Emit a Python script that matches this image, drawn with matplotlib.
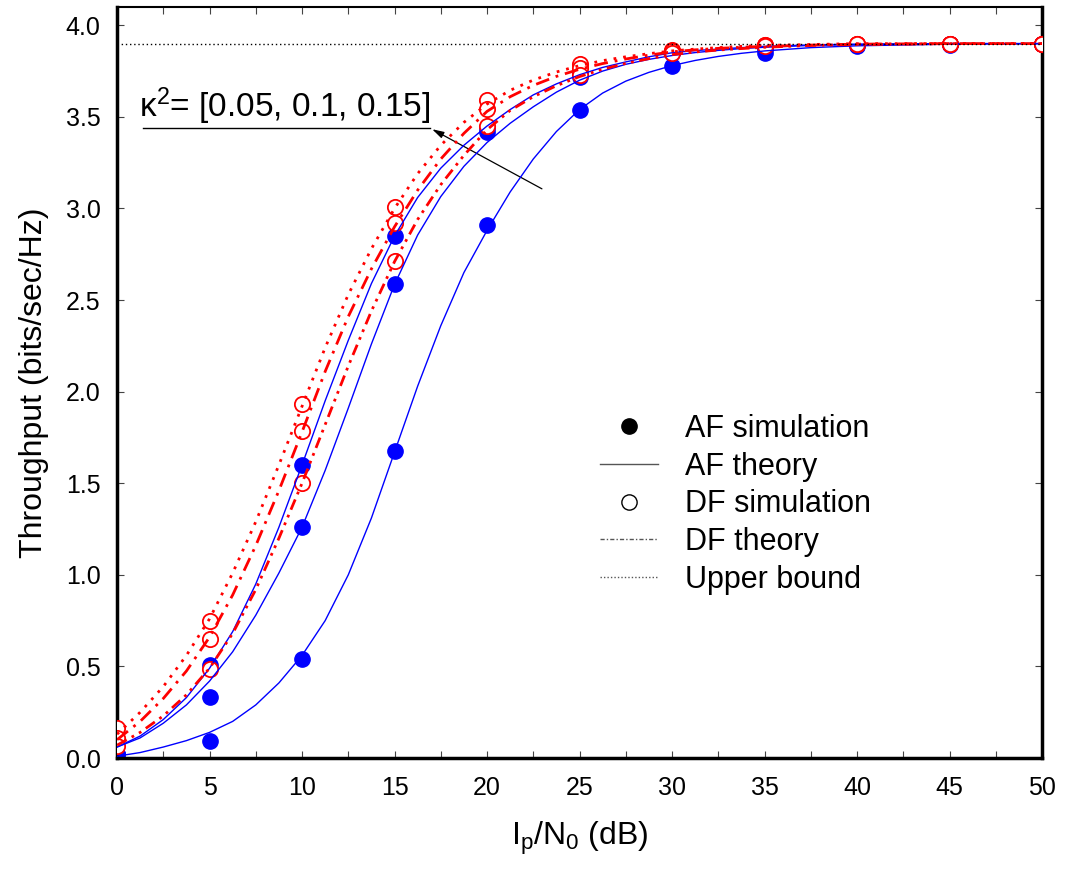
import numpy as np
import matplotlib
matplotlib.use('Agg')
import matplotlib.pyplot as plt
from matplotlib.lines import Line2D
from matplotlib.legend_handler import HandlerLine2D
from matplotlib.ticker import MultipleLocator

plt.rcParams['font.family'] = ['Liberation Sans', 'DejaVu Sans']
plt.rcParams['mathtext.fontset'] = 'custom'
plt.rcParams['mathtext.rm'] = 'Liberation Sans'
plt.rcParams['mathtext.it'] = 'Liberation Sans:italic'

# simulation points (dB)
snr_sim = [0, 5, 10, 15, 20, 25, 30, 35, 40, 45, 50]
af_sim_1 = [0.02, 0.51, 1.60, 2.85, 3.44, 3.74, 3.85, 3.88, 3.89, 3.90, 3.90]
af_sim_2 = [0.02, 0.335, 1.26, 2.585, 3.42, 3.72, 3.85, 3.87, 3.89, 3.90, 3.90]
af_sim_3 = [0.02, 0.093, 0.543, 1.674, 2.91, 3.536, 3.78, 3.85, 3.885, 3.895, 3.90]
df_sim_1 = [0.165, 0.75, 1.93, 3.01, 3.59, 3.79, 3.865, 3.89, 3.90, 3.90, 3.90]
df_sim_2 = [0.11, 0.648, 1.787, 2.92, 3.545, 3.766, 3.86, 3.89, 3.90, 3.90, 3.90]
df_sim_3 = [0.066, 0.488, 1.504, 2.712, 3.448, 3.73, 3.847, 3.885, 3.90, 3.90, 3.90]

# theory curves
snr_th = [0, 1.25, 2.5, 3.75, 5, 6.25, 7.5, 8.75, 10, 11.25, 12.5, 13.75, 15, 16.25, 17.5,
          18.75, 20, 21.25, 22.5, 23.75, 25, 26.25, 27.5, 28.75, 30, 31.25, 32.5, 33.75, 35,
          37.5, 40, 45, 50]
af_th_1 = [0.06, 0.12, 0.21, 0.33, 0.49, 0.69, 0.95, 1.26, 1.60, 1.95, 2.28, 2.59, 2.85, 3.06, 3.22,
           3.345, 3.45, 3.54, 3.62, 3.68, 3.73, 3.77, 3.80, 3.828, 3.85, 3.862, 3.87, 3.878, 3.885,
           3.893, 3.897, 3.90, 3.90]
af_th_2 = [0.06, 0.11, 0.19, 0.29, 0.42, 0.58, 0.78, 1.01, 1.26, 1.57, 1.91, 2.26, 2.585, 2.855, 3.065,
           3.23, 3.36, 3.465, 3.555, 3.635, 3.70, 3.75, 3.787, 3.814, 3.835, 3.851, 3.863, 3.873, 3.88,
           3.89, 3.895, 3.90, 3.90]
af_th_3 = [0.01, 0.03, 0.06, 0.095, 0.14, 0.20, 0.29, 0.41, 0.56, 0.75, 1.00, 1.31, 1.67, 2.03, 2.36,
           2.65, 2.88, 3.09, 3.27, 3.42, 3.54, 3.63, 3.695, 3.743, 3.78, 3.808, 3.83, 3.847, 3.86,
           3.878, 3.888, 3.897, 3.90]
df_th_1 = [0.13, 0.25, 0.39, 0.56, 0.76, 1.01, 1.29, 1.60, 1.92, 2.24, 2.53, 2.78, 3.00, 3.19, 3.345,
           3.47, 3.57, 3.645, 3.701, 3.745, 3.78, 3.807, 3.828, 3.845, 3.86, 3.87, 3.878, 3.885, 3.89,
           3.895, 3.90, 3.90, 3.90]
df_th_2 = [0.10, 0.20, 0.325, 0.475, 0.66, 0.89, 1.16, 1.46, 1.78, 2.11, 2.41, 2.67, 2.90, 3.10, 3.27,
           3.41, 3.53, 3.61, 3.672, 3.721, 3.76, 3.791, 3.816, 3.837, 3.855, 3.866, 3.874, 3.88, 3.885,
           3.892, 3.897, 3.90, 3.90]
df_th_3 = [0.07, 0.14, 0.23, 0.345, 0.49, 0.68, 0.92, 1.20, 1.50, 1.82, 2.14, 2.44, 2.71, 2.94, 3.13,
           3.29, 3.43, 3.535, 3.61, 3.67, 3.72, 3.76, 3.792, 3.818, 3.84, 3.854, 3.865, 3.873, 3.88,
           3.89, 3.895, 3.90, 3.90]
upper_bound = 3.9

kappa_label = 'κ$^{2}$= [0.05, 0.1, 0.15]'
legend_labels = ['AF simulation', 'AF theory', 'DF simulation', 'DF theory', 'Upper bound']

blue = '#0000ff'
red = '#ff0000'


class MarkerRight(HandlerLine2D):
    # legend marker sits near the right end of the handle, like the original
    def get_xdata(self, legend, xdescent, ydescent, width, height, fontsize):
        xdata, _ = super().get_xdata(legend, xdescent, ydescent, width, height, fontsize)
        return xdata, [0.84 * width - xdescent]


fig = plt.figure(figsize=(10.65, 8.71), dpi=100)
ax = fig.add_axes([0.1099, 0.1297, 0.8685, 0.8623])

# markers first, lines drawn over them
for ys in [af_sim_1, af_sim_2, af_sim_3]:
    ax.plot(snr_sim, ys, 'o', color=blue, ms=11, mec=blue, zorder=2)
for ys in [df_sim_1, df_sim_2, df_sim_3]:
    ax.plot(snr_sim, ys, 'o', mfc='white', mec=red, mew=1.3, ms=11, zorder=3)

for ys in [af_th_1, af_th_2, af_th_3]:
    ax.plot(snr_th, ys, '-', color=blue, lw=1.0, zorder=4)
ax.plot(snr_th, df_th_1, color=red, lw=2, ls=(0, (1, 2.5)), zorder=4)
ax.plot(snr_th, df_th_2, color=red, lw=2, ls=(0, (5, 2.5, 1, 2.5)), zorder=4)
ax.plot(snr_th, df_th_3, color=red, lw=2, ls=(0, (4, 2, 1, 2, 1, 2)), zorder=4)

ax.axhline(upper_bound, color='k', lw=1, ls=(0, (1, 2)), zorder=5)

ax.set_xlim(0, 50)
ax.set_ylim(0, 4.1)
ax.set_xticks(np.arange(0, 51, 5))
ax.set_yticks(np.arange(0, 4.01, 0.5))
ax.set_yticklabels(['%.1f' % v for v in np.arange(0, 4.01, 0.5)])
ax.xaxis.set_minor_locator(MultipleLocator(2.5))
ax.tick_params(which='both', direction='in', top=True, right=True, labelsize=18,
               length=5, width=0.8, color='#444444')
ax.tick_params(axis='x', pad=13)
ax.tick_params(axis='y', pad=12)
for side in ['left', 'bottom', 'right']:
    ax.spines[side].set_linewidth(2.5)
ax.spines['top'].set_linewidth(1.5)

ax.set_xlabel(r'$\mathregular{I_p/N_0}$ (dB)', fontsize=23, labelpad=14)
ax.set_ylabel('Throughput (bits/sec/Hz)', fontsize=23, labelpad=12)

# kappa annotation
ax.text(1.2, 3.5, kappa_label, fontsize=24, va='baseline', ha='left')
ax.plot([1.4, 16.9], [3.44, 3.44], color='k', lw=1)
ax.annotate('', xy=(16.9, 3.44), xytext=(23.1, 3.10),
            arrowprops=dict(arrowstyle='-|>,head_length=0.7,head_width=0.2', color='k', lw=0.9))

handles = [
    Line2D([], [], ls='none', marker='o', color='k', ms=11),
    Line2D([], [], ls='-', color='#555555', lw=1),
    Line2D([], [], ls='none', marker='o', mfc='white', mec='k', mew=1, ms=11),
    Line2D([], [], color='#555555', lw=1, ls=(0, (3, 1.5, 1, 1.5))),
    Line2D([], [], color='#555555', lw=1, ls=(0, (1, 1.5))),
]
ax.legend(handles, legend_labels, loc='upper left', bbox_to_anchor=(0.522, 0.458),
          frameon=False, fontsize=22, handlelength=1.9, handletextpad=0.9,
          labelspacing=0.25, borderpad=0, borderaxespad=0,
          handler_map={handles[0]: MarkerRight(), handles[2]: MarkerRight()})

fig.savefig('out.png', dpi=100)
